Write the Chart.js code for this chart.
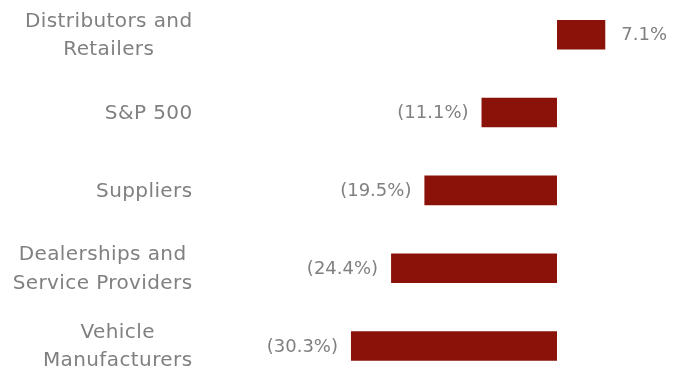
<!DOCTYPE html>
<html>
<head>
<meta charset="utf-8">
<script src="https://cdn.jsdelivr.net/npm/chart.js@4"></script>
<style>
  html, body { margin:0; padding:0; background:#fff; }
  #wrap { width:674px; height:369px; position:relative; }
</style>
</head>
<body>
<div id="wrap"><canvas id="chart"></canvas></div>
<script>
// Data
const categories = [["Distributors and","Retailers"], "S&P 500", "Suppliers", ["Dealerships and","Service Providers"], ["Vehicle","Manufacturers"]];
const values = [7.1, -11.1, -19.5, -24.4, -30.3];
const xMin = -35, xMax = 10;

const barColor = "#8b1208";
const textColor = "#808080";
const fontFamily = "'DejaVu Sans', sans-serif";

const fmt = v => v < 0 ? "(" + Math.abs(v).toFixed(1) + "%)" : v.toFixed(1) + "%";

// Category labels: block right-aligned, lines centered within block
const categoryLabels = {
  id: "categoryLabels",
  afterDraw(chart){
    const ctx = chart.ctx, y = chart.scales.y;
    const right = 192.5, lineH = 28.5;
    ctx.save();
    ctx.font = "20px " + fontFamily;
    ctx.fillStyle = textColor;
    ctx.textAlign = "center";
    ctx.textBaseline = "middle";
    if ("letterSpacing" in ctx) ctx.letterSpacing = "0.4px";
    chart.data.labels.forEach((lab, i) => {
      const lines = Array.isArray(lab) ? lab : [lab];
      const w = Math.max(...lines.map(l => ctx.measureText(l).width));
      const cx = right - w/2;
      const yc = y.getPixelForValue(i) + 1;
      lines.forEach((l, j) => ctx.fillText(l, cx, yc + (j - (lines.length-1)/2) * lineH));
    });
    ctx.restore();
  }
};

// Value labels outside bar ends
const valueLabels = {
  id: "valueLabels",
  afterDatasetsDraw(chart){
    const ctx = chart.ctx;
    const meta = chart.getDatasetMeta(0);
    ctx.save();
    ctx.font = "18px " + fontFamily;
    ctx.fillStyle = textColor;
    ctx.textBaseline = "middle";
    meta.data.forEach((bar, i) => {
      const v = values[i];
      if (v < 0) { ctx.textAlign = "right"; ctx.fillText(fmt(v), bar.x - 13, bar.y + 1); }
      else { ctx.textAlign = "left"; ctx.fillText(fmt(v), bar.x + 16, bar.y + 1); }
    });
    ctx.restore();
  }
};

new Chart(document.getElementById("chart"), {
  type: "bar",
  data: {
    labels: categories,
    datasets: [{ data: values, backgroundColor: barColor, barPercentage: 0.38, categoryPercentage: 1, clip: false }]
  },
  options: {
    indexAxis: "y",
    responsive: true,
    maintainAspectRatio: false,
    animation: false,
    layout: { padding: { left: 319, right: 49, top: 34.7, bottom: 23 } },
    scales: {
      x: { type: "linear", display: false, min: xMin, max: xMax },
      y: { display: false, offset: false }
    },
    plugins: { legend: { display: false }, tooltip: { enabled: false } }
  },
  plugins: [categoryLabels, valueLabels]
});
</script>
</body>
</html>
